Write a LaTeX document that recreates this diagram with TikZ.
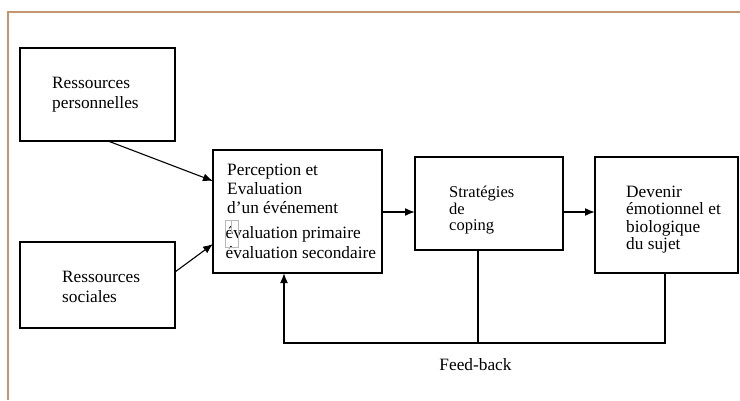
\documentclass[tikz,border=0pt]{standalone}
\usepackage{fontspec}
\setmainfont{Liberation Serif}
\usetikzlibrary{arrows.meta}
\definecolor{framecol}{RGB}{196,150,112}
\begin{document}
\begin{tikzpicture}[x=1pt,y=-1pt,
  box/.style={draw, line width=1.6pt, inner sep=0pt, outer sep=0pt},
  lbl/.style={align=left, anchor=north west, inner sep=0pt},
  arr/.style={line width=1.6pt, -{Latex[length=10pt,width=8pt]}},
  thinarr/.style={line width=1.1pt, -{Latex[length=10pt,width=8pt]}},
  plain/.style={line width=1.6pt}]
\useasboundingbox (0,0) rectangle (740,400);
\draw[framecol, line width=1.2pt] (8,400) -- (8,12) -- (740,12);
% boxes
\node[box, minimum width=155pt, minimum height=93pt] (rp) at (97.5,94.5) {};
\node[box, minimum width=155pt, minimum height=86pt] (rs) at (97.5,285) {};
\node[box, minimum width=169pt, minimum height=123pt] (pe) at (297.5,211.5) {};
\node[box, minimum width=148pt, minimum height=93pt] (st) at (489,203.5) {};
\node[box, minimum width=143pt, minimum height=116pt] (dv) at (666.5,215) {};
% texts
\node[lbl, font=\fontsize{17.3}{20}\selectfont] (trp) at (52,74) {\strut Ressources\\personnelles};
\node[lbl, font=\fontsize{17.3}{20}\selectfont] (trs) at (62,268) {\strut Ressources\\sociales};
\node[lbl, font=\fontsize{17.3}{19}\selectfont] (tpe1) at (227,161.7) {\strut Perception et\\Evaluation\\d’un événement};
\node[lbl, font=\fontsize{17.3}{20}\selectfont] (tpe2) at (225.5,224) {\strut évaluation primaire\\évaluation secondaire};
\node[lbl, font=\fontsize{16.5}{15.5}\selectfont] (tst) at (449,186.2) {\strut Stratégies\\de\\coping};
\node[lbl, font=\fontsize{17.3}{17.5}\selectfont] (tdv) at (626,184.75) {\strut Devenir\\émotionnel et\\biologique\\du sujet};
\node[font=\fontsize{17.3}{20}\selectfont, anchor=base, inner sep=0pt] (tfb) at (475.5,370) {Feed-back};
% missing-glyph artifact
\draw[gray!55, line width=0.5pt] (225,220) rectangle (238,247);
\draw[gray!55, line width=0.5pt] (231,220) -- (231,234);
% connectors
\draw[thinarr] ([xshift=10.5pt]rp.south) -- ([yshift=30.5pt]pe.west);
\draw[thinarr] ([yshift=13pt]rs.east) -- ([yshift=-32.5pt]pe.west);
\draw[arr] ([yshift=-0.5pt]pe.east) -- ([yshift=-8.5pt]st.west);
\draw[arr] ([yshift=-8.5pt]st.east) -- ([yshift=3pt]dv.west);
\coordinate (fbS) at (478,343);
\coordinate (fbL) at (284,343);
\coordinate (fbR) at (665,343);
\draw[plain] (fbS |- st.south) -- (fbS);
\draw[arr] (fbR |- dv.south) -- (fbR) -- (fbL) -- (fbL |- pe.south);
\end{tikzpicture}
\end{document}
